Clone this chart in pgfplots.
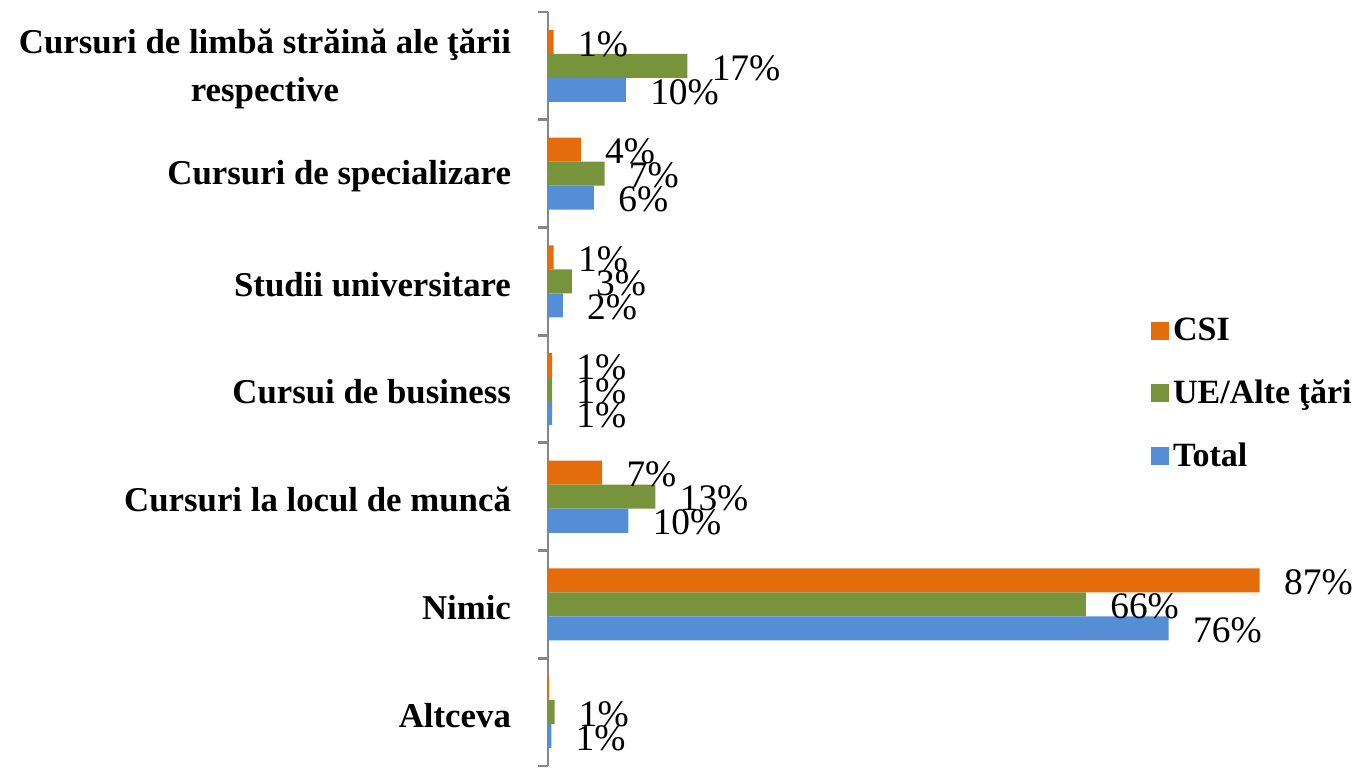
\documentclass[border=0pt]{standalone}
\usepackage{fontspec}
\setmainfont{Liberation Serif}
\usepackage{pgfplots}
\pgfplotsset{compat=1.18}
\usetikzlibrary{calc}
\definecolor{csi}{RGB}{228,108,10}
\definecolor{ue}{RGB}{119,147,60}
\definecolor{tot}{RGB}{85,142,213}
\definecolor{axgray}{RGB}{134,134,134}
\begin{document}
\begin{tikzpicture}
\begin{axis}[
  name=ax,
  scale only axis,
  width=389.5pt, height=377pt,
  xbar, bar width=0.223,
  xmin=0, xmax=95,
  ymin=-0.5, ymax=6.5,
  axis x line=none,
  axis y line*=left,
  y axis line style={axgray, line width=1.4pt, -},
  ytick={0,...,6},
  yticklabels={Altceva, Nimic, Cursuri la locul de muncă, Cursui de business, Studii universitare, Cursuri de specializare, {Cursuri de limbă străină ale ţării\\respective}},
  yticklabel style={align=center, font=\fontsize{17.4}{24}\selectfont\bfseries, xshift=-15pt, yshift=-1.5pt},
  minor ytick={-0.5,0.5,...,6.5},
  major tick length=0pt, minor tick length=5pt,
  tick align=outside,
  minor tick style={axgray, line width=1.4pt},
  point meta=explicit symbolic,
  nodes near coords,
  nodes near coords align={anchor=west},
  every node near coord/.append style={font=\fontsize{18.7}{18.7}\selectfont, xshift=12pt, inner sep=0pt, yshift=-1pt},
  legend style={at={(axis cs:73.5,3.7)}, anchor=north west, draw=none, fill=none,
    font=\fontsize{17}{17}\selectfont\bfseries, row sep=14pt, inner sep=0pt,
    /tikz/every even column/.append style={column sep=6pt}},
  legend cell align=left,
  legend image code/.code={\fill (0pt,-4.5pt) rectangle (9pt,4.5pt);},
]
\addplot[fill=csi, draw=none, bar shift=0.223] coordinates {
  (0.7,6)[1\%] (4,5)[4\%] (0.7,4)[1\%] (0.5,3)[1\%] (6.6,2)[7\%] (86.8,1)[87\%] (0.15,0)[{}]
};
\addlegendentry{CSI}
\addplot[fill=ue, draw=none, bar shift=0] coordinates {
  (17,6)[17\%] (6.9,5)[7\%] (2.9,4)[3\%] (0.5,3)[1\%] (13.1,2)[13\%] (65.6,1)[66\%] (0.8,0)[1\%]
};
\addlegendentry{UE/Alte ţări}
\addplot[fill=tot, draw=none, bar shift=-0.223] coordinates {
  (9.5,6)[10\%] (5.6,5)[6\%] (1.8,4)[2\%] (0.5,3)[1\%] (9.8,2)[10\%] (75.7,1)[76\%] (0.4,0)[1\%]
};
\addlegendentry{Total}
\end{axis}
\pgfresetboundingbox
\path ($(ax.south west)+(-274pt,-0.5pt)$) rectangle ($(ax.south west)+(407.5pt,383pt)$);
\end{tikzpicture}
\end{document}
